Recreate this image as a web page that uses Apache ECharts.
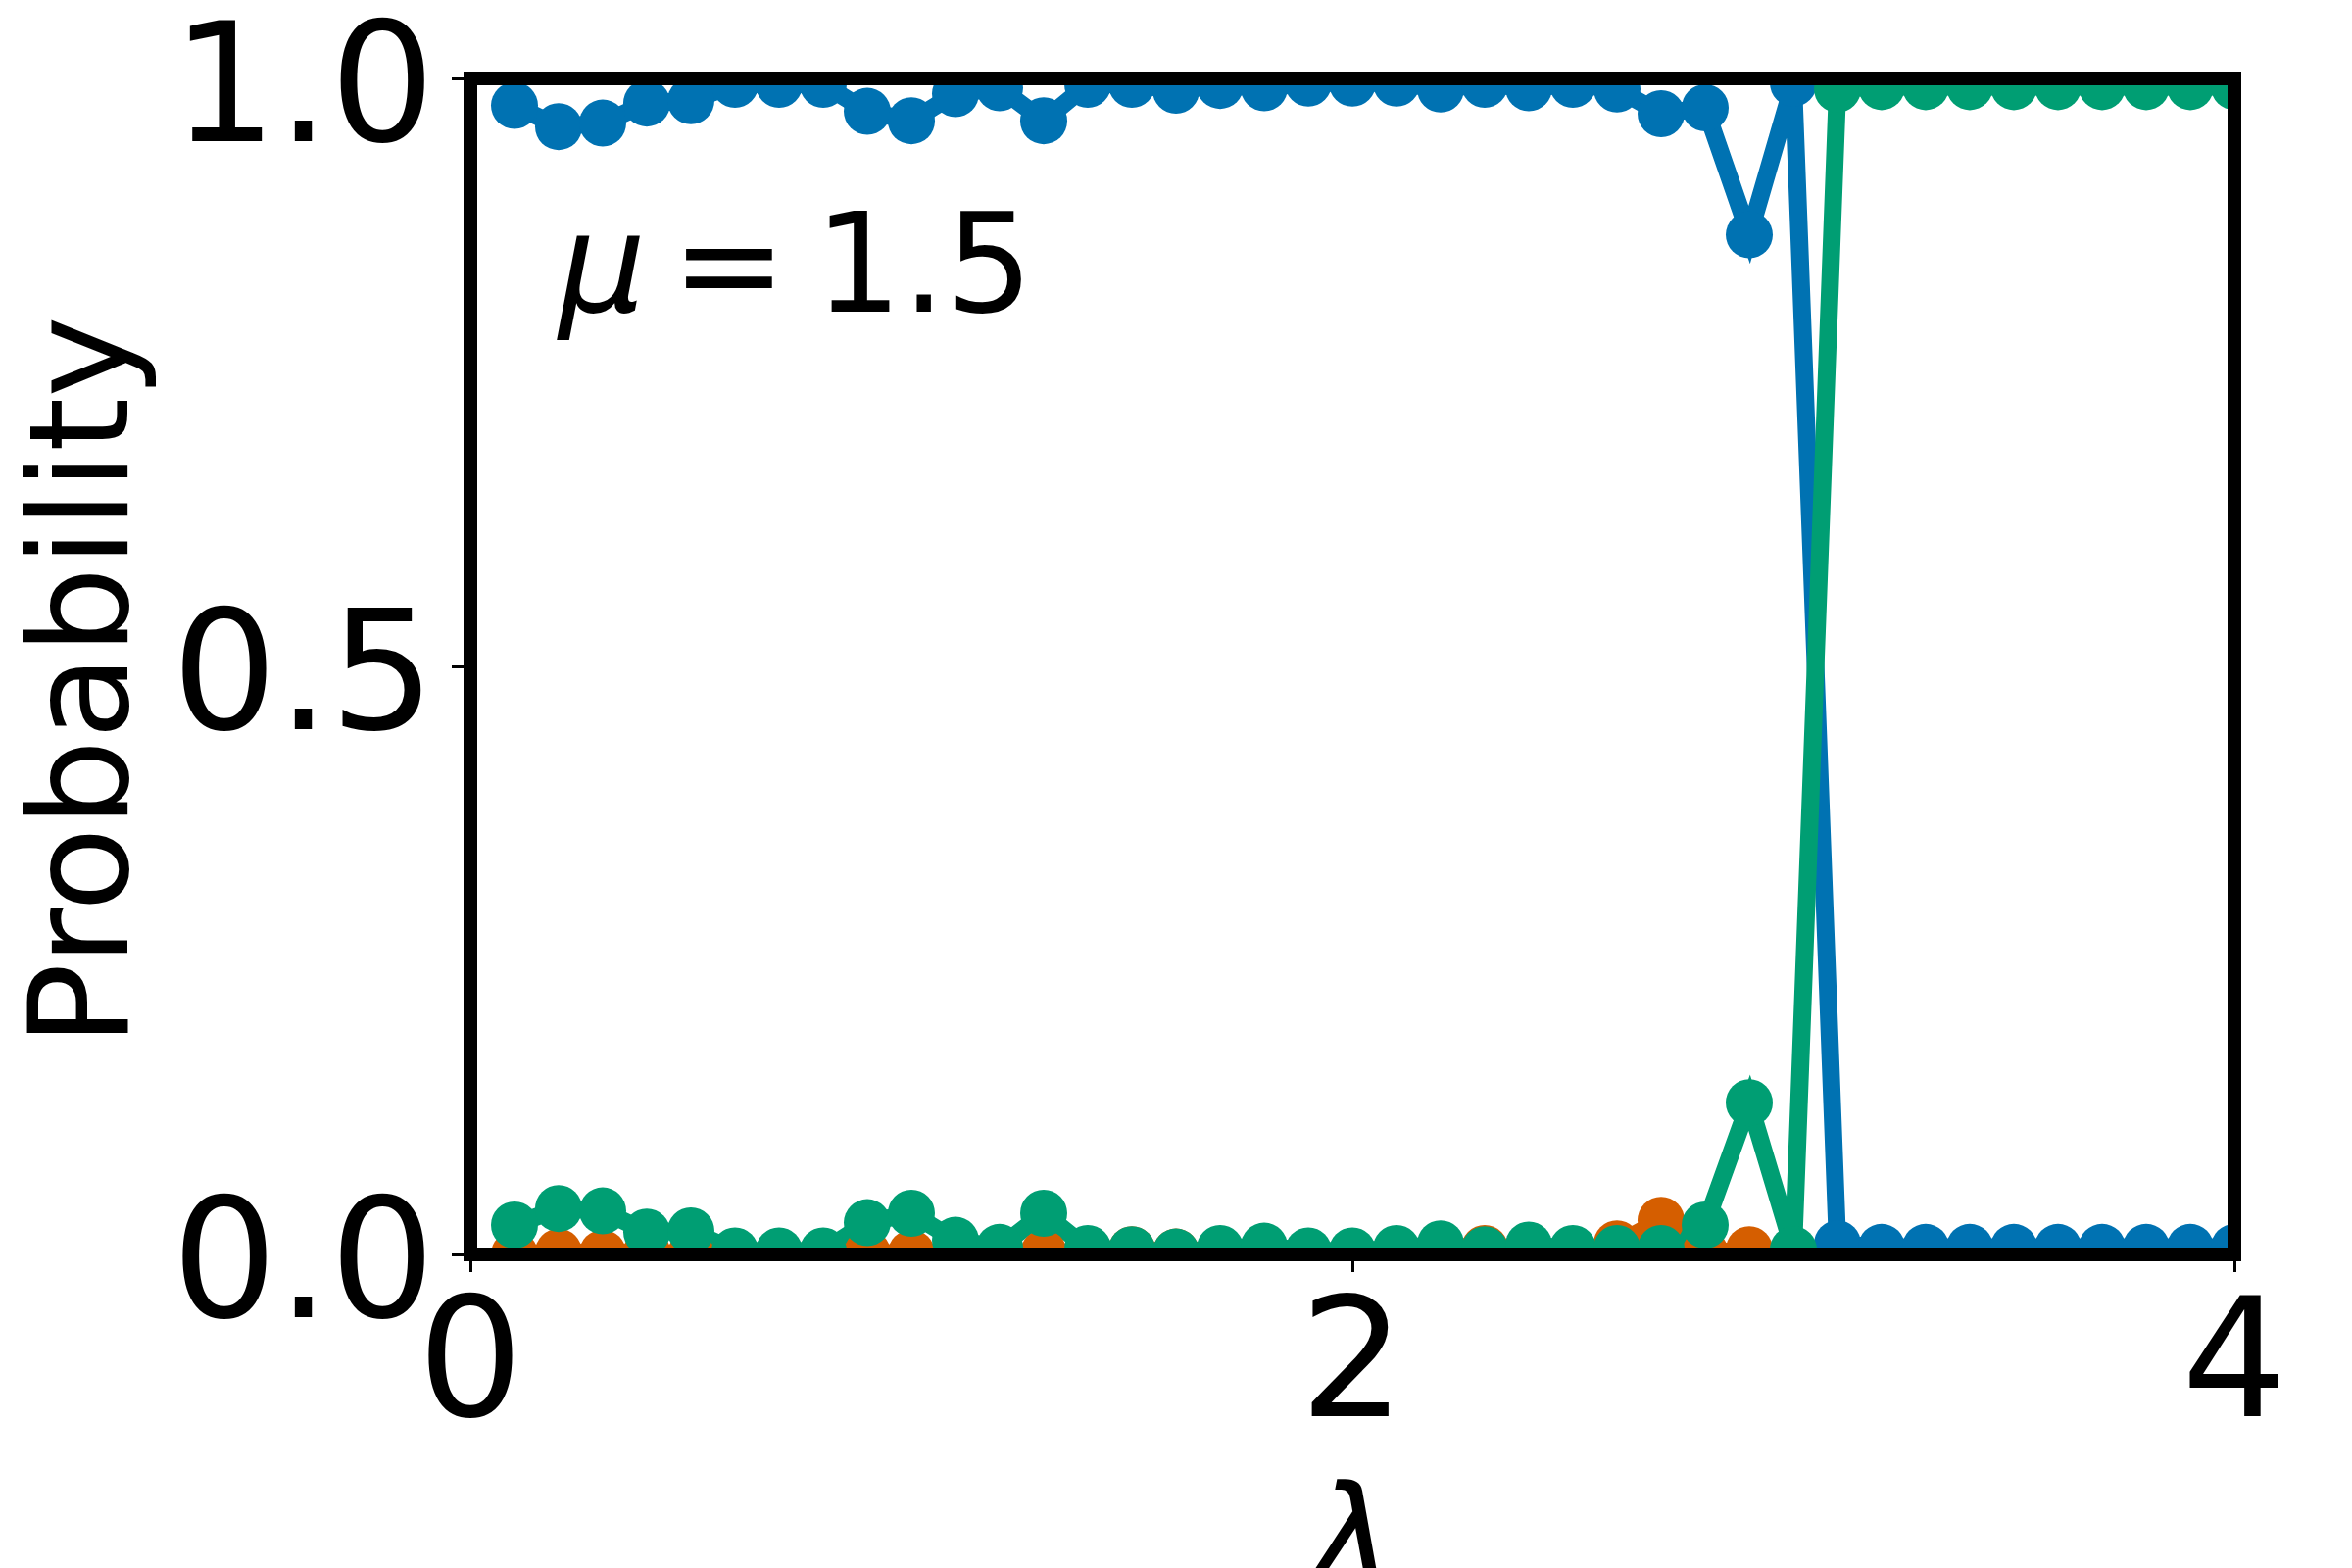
<!DOCTYPE html>
<html>
<head>
<meta charset="utf-8">
<script src="https://cdn.jsdelivr.net/npm/echarts@6/dist/echarts.min.js"></script>
<style>
  html, body { margin: 0; padding: 0; background: #ffffff; }
  #chart { width: 2400px; height: 1600px; }
</style>
</head>
<body>
<div id="chart"></div>
<script>
// lambda values (x)
const lambdaValues = [0.1,0.2,0.3,0.4,0.5,0.6,0.7,0.8,0.9,1.0,
                      1.1,1.2,1.3,1.4,1.5,1.6,1.7,1.8,1.9,2.0,
                      2.1,2.2,2.3,2.4,2.5,2.6,2.7,2.8,2.9,3.0,
                      3.1,3.2,3.3,3.4,3.5,3.6,3.7,3.8,3.9,4.0];
// blue series
const probBlue = [0.977,0.959,0.962,0.979,0.981,0.995,0.995,0.995,0.972,0.964,
                  0.987,0.992,0.964,0.995,0.995,0.990,0.994,0.992,0.996,0.996,
                  0.996,0.991,0.995,0.992,0.995,0.991,0.970,0.975,0.867,0.996,
                  0.009,0.006,0.006,0.006,0.006,0.006,0.006,0.006,0.006,0.006];
// orange series
const probOrange = [0.000,0.002,0.001,0.002,0.000,0.002,0.002,0.002,0.001,0.001,
                    0.001,0.002,0.001,0.000,0.004,0.002,0.001,0.001,0.001,0.001,
                    0.000,0.000,0.005,0.000,0.000,0.009,0.029,0.001,0.004,0.000,
                    0.000,0.000,0.000,0.000,0.000,0.000,0.000,0.000,0.000,0.000];
// green series
const probGreen = [0.025,0.039,0.037,0.019,0.020,0.003,0.003,0.003,0.027,0.035,
                   0.012,0.006,0.035,0.005,0.004,0.002,0.005,0.007,0.003,0.003,
                   0.005,0.009,0.004,0.008,0.005,0.005,0.005,0.025,0.129,0.004,
                   0.991,0.993,0.993,0.993,0.993,0.993,0.993,0.993,0.993,0.993];
const xTicks = [0, 2, 4];
const yTicks = [0.0, 0.5, 1.0];

const FONT = 'DejaVu Sans';
const G = { left: 480, right: 120, top: 80, bottom: 320 };
const W = 2400, H = 1600;
const FRAME = 14;

function pairs(ys) { return lambdaValues.map((x, i) => [x, ys[i]]); }

function mkSeries(name, data, color) {
  return {
    name, type: 'line', data: pairs(data),
    xAxisIndex: 0, yAxisIndex: 0,
    symbol: 'circle', symbolSize: 48, showAllSymbol: true,
    lineStyle: { color, width: 18, join: 'miter' },
    itemStyle: { color, borderWidth: 0 },
    emphasis: { disabled: true },
    clip: true, z: 2
  };
}

const axisLineStyle = { color: '#000', width: FRAME, cap: 'square' };
const chart = echarts.init(document.getElementById('chart'), null, { renderer: 'canvas' });
chart.setOption({
  animation: false,
  backgroundColor: '#ffffff',
  grid: { left: G.left, right: G.right, top: G.top, bottom: G.bottom, containLabel: false,
          outerBoundsMode: 'none', show: false },
  xAxis: [
    {
      type: 'value', position: 'bottom', min: 0, max: 4, interval: 2, z: 10,
      name: 'λ', nameLocation: 'middle', nameGap: 229,
      nameTextStyle: { fontFamily: FONT, fontSize: 141, fontStyle: 'italic', color: '#000' },
      axisLine: { show: true, onZero: false, lineStyle: axisLineStyle },
      axisTick: { show: true, length: 18, lineStyle: { color: '#000', width: 3 } },
      axisLabel: { show: true, margin: 37, fontFamily: FONT, fontSize: 169, color: '#000',
                   formatter: v => xTicks.includes(v) ? String(v) : '' },
      splitLine: { show: false }
    },
    {
      type: 'value', position: 'top', min: 0, max: 4, z: 10,
      axisLine: { show: true, onZero: false, lineStyle: axisLineStyle },
      axisTick: { show: false }, axisLabel: { show: false }, splitLine: { show: false }
    }
  ],
  yAxis: [
    {
      type: 'value', position: 'left', min: 0, max: 1, interval: 0.5, z: 10,
      name: 'Probability', nameLocation: 'middle', nameGap: 268, nameRotate: 90,
      nameTextStyle: { fontFamily: FONT, fontSize: 141, color: '#000', padding: [0, 30, 0, 0] },
      axisLine: { show: true, onZero: false, lineStyle: axisLineStyle },
      axisTick: { show: true, length: 19, lineStyle: { color: '#000', width: 3 } },
      axisLabel: { show: true, margin: 36, fontFamily: FONT, fontSize: 169, color: '#000',
                   verticalAlign: 'top', lineHeight: 40,
                   formatter: v => yTicks.some(t => Math.abs(t - v) < 1e-9) ? v.toFixed(1) : '' },
      splitLine: { show: false }
    },
    {
      type: 'value', position: 'right', min: 0, max: 1, z: 10,
      axisLine: { show: true, onZero: false, lineStyle: axisLineStyle },
      axisTick: { show: false }, axisLabel: { show: false }, splitLine: { show: false }
    }
  ],
  graphic: [
    // white masks outside the plotting area (clip overflowing markers, like the axes clip)
    { type: 'rect', z: 5, silent: true, shape: { x: G.left + 8, y: 0, width: W, height: G.top }, style: { fill: '#fff' } },
    { type: 'rect', z: 5, silent: true, shape: { x: G.left + 8, y: H - G.bottom, width: W, height: G.bottom }, style: { fill: '#fff' } },
    { type: 'rect', z: 5, silent: true, shape: { x: W - G.right, y: 0, width: G.right, height: H }, style: { fill: '#fff' } },
    {
      type: 'text', z: 20, silent: true, x: 570, y: 282,
      style: {
        text: '{mu|μ}{s1| }{n|=}{s2| }{n|1.5}',
        verticalAlign: 'middle', align: 'left',
        rich: {
          mu: { fontFamily: FONT, fontSize: 140, fontStyle: 'italic', fill: '#000' },
          s1: { fontFamily: FONT, fontSize: 82, fill: '#000' },
          s2: { fontFamily: FONT, fontSize: 91, fill: '#000' },
          n: { fontFamily: FONT, fontSize: 140, fill: '#000' }
        }
      }
    }
  ],
  series: [
    mkSeries('P2', probOrange, '#D55E00'),
    mkSeries('P1', probBlue, '#0072B2'),
    mkSeries('P3', probGreen, '#009E73')
  ]
});
</script>
</body>
</html>
